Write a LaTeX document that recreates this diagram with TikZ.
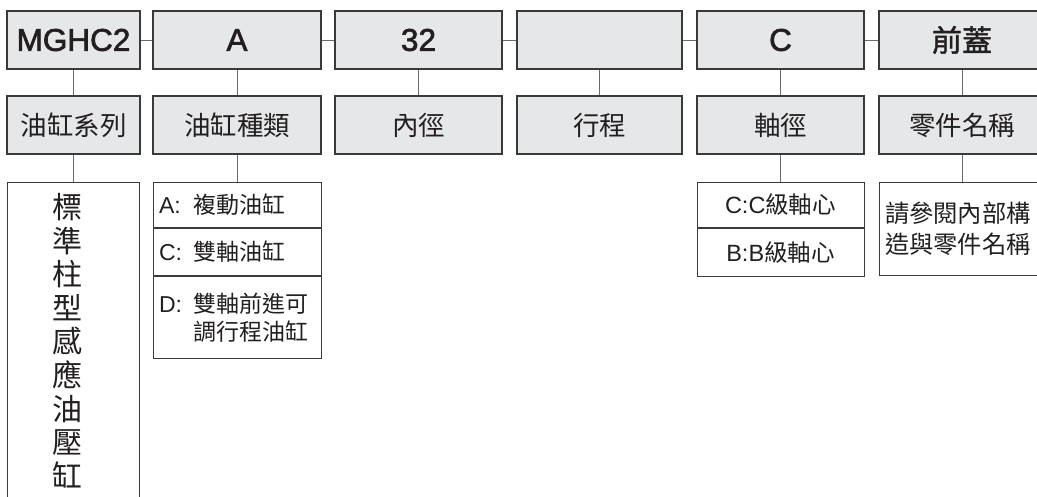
\documentclass[tikz,border=0pt]{standalone}
\usepackage{fontspec}
\setmainfont{Liberation Sans}
\newfontfamily\cjk{Noto Sans CJK TC}
\newfontfamily\heavy[FakeBold=2]{Liberation Sans}
\newfontfamily\heavycjk[FakeBold=1.5]{Noto Sans CJK TC}
\definecolor{boxfill}{HTML}{E6E7E8}
\definecolor{boxline}{HTML}{3A3A3A}
\definecolor{conline}{HTML}{6A6A6A}
\definecolor{ink}{HTML}{231F20}
\begin{document}
\begin{tikzpicture}[x=1pt,y=-1pt,
  topbox/.style={draw=boxline,fill=boxfill,line width=1.1pt,minimum height=58pt,inner sep=0pt,text=ink,font=\heavy\fontsize{31.5}{36}\selectfont},
  midbox/.style={draw=boxline,fill=boxfill,line width=1.1pt,minimum height=58pt,inner sep=0pt,text=ink,font=\cjk\fontsize{26.5}{30}\selectfont},
  lowbox/.style={draw=boxline,fill=white,line width=0.9pt,inner sep=0pt,text=ink},
  celltext/.style={lowbox,align=left,inner xsep=6pt,text width=#1,font=\fontsize{23}{28}\selectfont},
  conn/.style={draw=conline,line width=1pt}
]
\useasboundingbox (0,0) rectangle (1037,496);
\clip (0,0) rectangle (1037,496);
% top row
\node[topbox,minimum width=133pt] (t1) at (73.5,40) {MGHC2};
\node[topbox,minimum width=168pt] (t2) at (237,40) {A};
\node[topbox,minimum width=167pt] (t3) at (418.5,40) {32};
\node[topbox,minimum width=165pt] (t4) at (599.5,40) {};
\node[topbox,minimum width=167pt] (t5) at (780.5,40) {C};
\node[topbox,minimum width=166pt] (t6) at (962,40) {\heavycjk\fontsize{30}{36}\selectfont 前蓋};
% second row
\node[midbox,minimum width=133pt] (m1) at (73.5,125) {油缸系列};
\node[midbox,minimum width=168pt] (m2) at (237,125) {油缸種類};
\node[midbox,minimum width=167pt] (m3) at (418.5,125) {內徑};
\node[midbox,minimum width=165pt] (m4) at (599.5,125) {行程};
\node[midbox,minimum width=167pt] (m5) at (780.5,125) {軸徑};
\node[midbox,minimum width=166pt] (m6) at (962,125) {零件名稱};
% third row
\node[lowbox,minimum width=132pt,minimum height=340pt,anchor=north] (b1) at (73.5,182) {};
\node[anchor=north,inner sep=0pt,align=center,text=ink,font=\cjk\fontsize{30}{33.6}\selectfont] (b1t) at (67.5,193)
  {標\\準\\柱\\型\\感\\應\\油\\壓\\缸};
\node[celltext=156pt,minimum width=168pt,minimum height=45pt,anchor=north] (ca) at (237,182)
  {\makebox[34pt][l]{A:}{\cjk 複動油缸}};
\node[celltext=156pt,minimum width=168pt,minimum height=47pt,anchor=north] (cc) at (ca.south)
  {\makebox[34pt][l]{C:}{\cjk 雙軸油缸}};
\node[celltext=156pt,minimum width=168pt,minimum height=82pt,anchor=north] (cd) at (cc.south)
  {\makebox[34pt][l]{D:}{\cjk 雙軸前進可}\\\hspace*{34pt}{\cjk 調行程油缸}};
\node[lowbox,minimum width=167pt,minimum height=45pt,anchor=north,font=\fontsize{23.5}{26}\selectfont] (sc) at (780.5,182)
  {C:C{\cjk 級軸心}};
\node[lowbox,minimum width=167pt,minimum height=48pt,anchor=north,font=\fontsize{23.5}{26}\selectfont] (sb) at (sc.south)
  {B:B{\cjk 級軸心}};
\node[lowbox,minimum width=166pt,minimum height=93pt,anchor=north,align=left,text width=154pt,inner xsep=6pt,font=\cjk\fontsize{24.3}{30.5}\selectfont] (pn) at (962,182)
  {請參閱內部構\\造與零件名稱};
% horizontal connectors
\draw[conn] (t1) -- (t2);
\draw[conn] (t2) -- (t3);
\draw[conn] (t3) -- (t4);
\draw[conn] (t4) -- (t5);
\draw[conn] (t5) -- (t6);
% vertical connectors
\foreach \i in {1,...,6} { \draw[conn] (t\i) -- (m\i); }
\draw[conn] (m1) -- (b1.north);
\draw[conn] (m2) -- (ca);
\draw[conn] (m5) -- (sc);
\draw[conn] (m6) -- (pn);
\end{tikzpicture}
\end{document}
